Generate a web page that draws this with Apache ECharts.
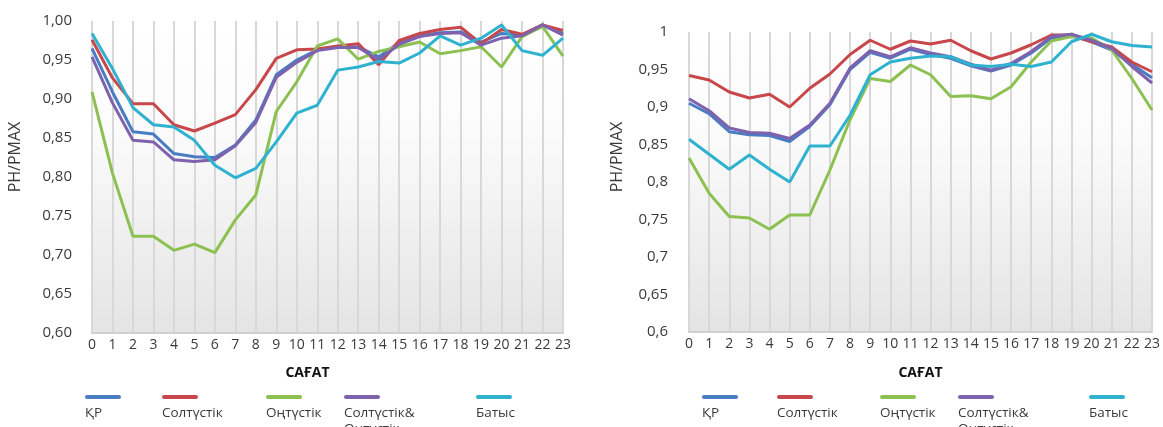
<!DOCTYPE html>
<html>
<head>
<meta charset="utf-8">
<script src="https://cdn.jsdelivr.net/npm/echarts@6/dist/echarts.min.js"></script>
<style>
html,body{margin:0;padding:0;background:#fff;}
#chart{width:1163px;height:427px;}
</style>
</head>
<body>
<div id="chart"></div>
<script>
const hours = ['0','1','2','3','4','5','6','7','8','9','10','11','12','13','14','15','16','17','18','19','20','21','22','23'];
const seriesNames = ['ҚР', 'Солтүстік', 'Оңтүстік', 'Солтүстік&\nОңтүстік', 'Батыс'];
const yTicksLeft = ['0,60','0,65','0,70','0.75','0,80','0,85','0,90','0,95','1,00'];
const yTicksRight = ['0,6','0,65','0,7','0,75','0,8','0,85','0,9','0,95','1'];
const xAxisTitle = 'САҒАТ';
const yAxisTitle = 'PH/PMAX';

// Left chart
const kzLeft    = [0.965,0.909,0.858,0.855,0.830,0.826,0.825,0.841,0.873,0.931,0.950,0.963,0.967,0.967,0.954,0.972,0.981,0.985,0.986,0.973,0.984,0.982,0.995,0.984];
const northLeft = [0.976,0.927,0.894,0.894,0.867,0.859,0.869,0.880,0.912,0.952,0.963,0.964,0.968,0.971,0.944,0.975,0.984,0.989,0.992,0.971,0.989,0.983,0.995,0.988];
const southLeft = [0.909,0.805,0.724,0.724,0.706,0.714,0.703,0.745,0.777,0.884,0.922,0.968,0.977,0.951,0.961,0.967,0.973,0.958,0.962,0.967,0.941,0.980,0.993,0.955];
const nsLeft    = [0.954,0.895,0.847,0.845,0.822,0.820,0.822,0.840,0.870,0.928,0.947,0.962,0.966,0.966,0.950,0.970,0.980,0.984,0.985,0.969,0.978,0.981,0.995,0.982];
const westLeft  = [0.984,0.939,0.889,0.867,0.864,0.847,0.815,0.799,0.811,0.845,0.882,0.892,0.937,0.941,0.948,0.946,0.959,0.981,0.969,0.978,0.995,0.962,0.956,0.978];

// Right chart
const kzRight    = [0.905,0.891,0.867,0.863,0.862,0.854,0.874,0.903,0.950,0.973,0.965,0.977,0.970,0.965,0.955,0.948,0.956,0.972,0.992,0.995,0.987,0.976,0.957,0.939];
const northRight = [0.942,0.936,0.920,0.912,0.917,0.900,0.925,0.944,0.970,0.989,0.977,0.988,0.984,0.989,0.975,0.964,0.972,0.983,0.996,0.996,0.987,0.980,0.960,0.947];
const southRight = [0.832,0.785,0.754,0.752,0.737,0.756,0.756,0.816,0.883,0.938,0.934,0.956,0.943,0.914,0.915,0.911,0.927,0.960,0.988,0.994,0.992,0.976,0.938,0.896];
const nsRight    = [0.911,0.895,0.872,0.866,0.865,0.858,0.876,0.905,0.952,0.975,0.967,0.979,0.972,0.967,0.957,0.949,0.958,0.974,0.994,0.997,0.989,0.978,0.954,0.932];
const westRight  = [0.857,0.837,0.817,0.836,0.817,0.800,0.848,0.848,0.889,0.943,0.960,0.965,0.968,0.967,0.956,0.954,0.957,0.954,0.960,0.987,0.997,0.987,0.982,0.980];

const colors = ['#4a7cc4', '#c8474a', '#8cc152', '#7e62ad', '#2fb2cf'];
const leftData = [kzLeft, northLeft, southLeft, nsLeft, westLeft];
const rightData = [kzRight, northRight, southRight, nsRight, westRight];

const legendLeftPos = [85, 162, 266, 344, 476];
const legendRightPos = [702, 777, 880, 958, 1089];

const chart = echarts.init(document.getElementById('chart'), null, {renderer: 'canvas'});

const bg = {
  type: 'linear', x: 0, y: 0, x2: 0, y2: 1,
  colorStops: [{offset: 0, color: '#ffffff'}, {offset: 0.35, color: '#fbfbfb'}, {offset: 1, color: '#e4e4e4'}]
};

function yAxisFor(gridIndex, labels, padShift, gap, margin) {
  return {
    type: 'value', gridIndex: gridIndex, min: 0.6, max: 1.0, interval: 0.05,
    axisLine: {show: false}, axisTick: {show: false}, splitLine: {show: false},
    axisLabel: {
      color: '#3a3a3a', fontSize: 15, margin: margin,
      formatter: function (v) { return labels[Math.round((v - 0.6) / 0.05)]; }
    },
    name: yAxisTitle, nameLocation: 'middle', nameRotate: 90, nameGap: gap,
    nameTextStyle: {color: '#3a3a3a', fontSize: 16, padding: [0, 0, 0, padShift]}
  };
}

function xAxisFor(gridIndex, gap, padRight) {
  return {
    type: 'value', gridIndex: gridIndex, min: 0, max: hours.length - 1, interval: 1,
    axisLine: {lineStyle: {color: '#d0d0d0', width: 2}},
    axisTick: {show: false},
    splitLine: {show: true, lineStyle: {color: '#d8d8d8', width: 2, type: 'solid'}},
    axisLabel: {
      color: '#3a3a3a', fontSize: 14, margin: 5,
      formatter: function (v) { return hours[Math.round(v)]; }
    },
    name: xAxisTitle, nameLocation: 'middle', nameGap: gap,
    nameTextStyle: {color: '#111', fontSize: 14, fontWeight: 'bold', padding: [0, padRight, 0, 0]}
  };
}

const series = [];
[leftData, rightData].forEach(function (set, gi) {
  set.forEach(function (arr, i) {
    series.push({
      name: seriesNames[i], type: 'line', xAxisIndex: gi, yAxisIndex: gi,
      data: arr.map(function (v, k) { return [k, v]; }),
      showSymbol: false, symbol: 'none', smooth: false,
      lineStyle: {color: colors[i], width: 3},
      itemStyle: {color: colors[i]}, z: 4
    });
  });
});

const rich = {
  t: {fontSize: 13.5, color: '#3a3a3a', lineHeight: 16, fontFamily: 'Open Sans'}
};
colors.forEach(function (c, i) {
  rich['b' + i] = {width: 36, height: 4, backgroundColor: c, borderRadius: 2, lineHeight: 16};
});

function legendItem(i, left) {
  return {
    data: [seriesNames[i]], left: left - 5, top: 391, padding: 0,
    itemWidth: 0, itemHeight: 0, icon: 'rect', selectedMode: false,
    formatter: function (name) {
      const parts = name.split('\n').map(function (p) { return '{t|' + p + '}'; });
      return '{b' + i + '|}\n' + parts.join('\n');
    },
    textStyle: {rich: rich}
  };
}

const legends = [];
legendLeftPos.forEach(function (x, i) { legends.push(legendItem(i, x)); });
legendRightPos.forEach(function (x, i) { legends.push(legendItem(i, x)); });

chart.setOption({
  animation: false,
  backgroundColor: '#ffffff',
  textStyle: {fontFamily: 'Open Sans'},
  grid: [
    {left: 92, top: 21, width: 471, height: 312, show: true, backgroundColor: bg, borderWidth: 0},
    {left: 689, top: 32, width: 474, height: 300, show: true, backgroundColor: bg, borderWidth: 0}
  ],
  xAxis: [xAxisFor(0, 33, 40), xAxisFor(1, 34, 0)],
  yAxis: [yAxisFor(0, yTicksLeft, 40, 69, 20), yAxisFor(1, yTicksRight, 50, 64, 21)],
  legend: legends,
  series: series
});
</script>
</body>
</html>
